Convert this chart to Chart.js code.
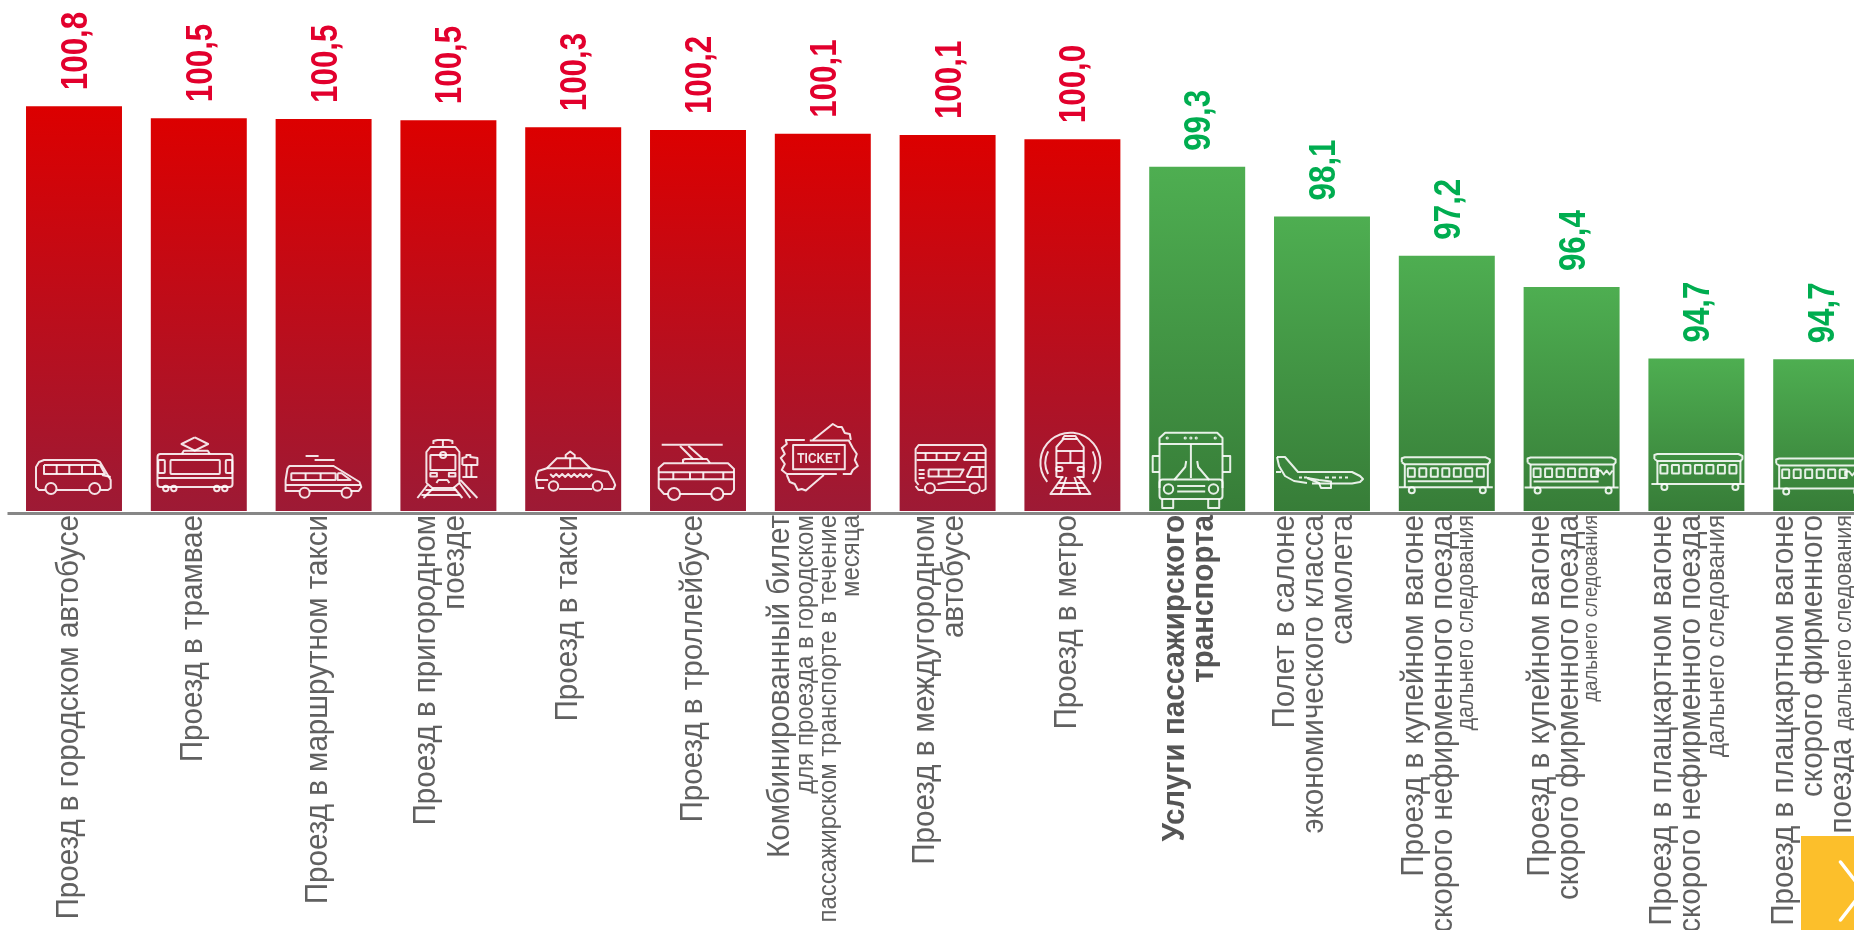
<!DOCTYPE html>
<html lang="ru">
<head>
<meta charset="utf-8">
<title>Проезд</title>
<script src="https://cdn.jsdelivr.net/npm/chart.js@4"></script>
<style>
  html, body { margin: 0; padding: 0; background: #fff; overflow: hidden; width: 1854px; height: 930px; }
  #wrap { position: relative; width: 1854px; height: 930px; overflow: hidden; }
  #graphic { position: absolute; left: 0; top: 0; }
  #nextBtn { position: absolute; left: 1801px; top: 836px; width: 53px; height: 94px; background: #fcbf2b; }
</style>
</head>
<body>
<div id="wrap">
  <canvas id="graphic" width="1900" height="930"></canvas>
  <div id="nextBtn">
    <svg width="53" height="94"><path d="M39.5 26 L62 55 L39.5 84" fill="none" stroke="#fff" stroke-width="3.5" stroke-linecap="round"/></svg>
  </div>
</div>
<script>
// Data
const categories = [
  ['Проезд в городском автобусе'],
  ['Проезд в трамвае'],
  ['Проезд в маршрутном такси'],
  ['Проезд в пригородном', 'поезде'],
  ['Проезд в такси'],
  ['Проезд в троллейбусе'],
  ['Комбинированный билет', 'для проезда в городском', 'пассажирском транспорте в течение', 'месяца'],
  ['Проезд в междугородном', 'автобусе'],
  ['Проезд в метро'],
  ['Услуги пассажирского', 'транспорта'],
  ['Полет в салоне', 'экономического класса', 'самолета'],
  ['Проезд в купейном вагоне', 'скорого нефирменного поезда', 'дальнего следования'],
  ['Проезд в купейном вагоне', 'скорого фирменного поезда', 'дальнего следования'],
  ['Проезд в плацкартном вагоне', 'скорого нефирменного поезда', 'дальнего следования'],
  ['Проезд в плацкартном вагоне', 'скорого фирменного', 'поезда|дальнего следования']
];
const values = [100.8, 100.51, 100.49, 100.46, 100.29, 100.22, 100.13, 100.1, 100.0, 99.33, 98.13, 97.18, 96.42, 94.69, 94.67];

// Styles
const BIG = 32;
const smallSizes = { 6: 26, 11: 23.3, 12: 20.2, 13: 26.2, 14: 23.3 };
const boldLabels = [9];
const labelSqueeze = 0.924;
const valueSqueeze = 0.87;
const FONT = '"Liberation Sans", Arial, sans-serif';

function hotColor(v) { return v >= 100 ? 'red' : 'green'; }
const gradientStops = { red: ['#dc0000', '#9d1a35'], green: ['#4eae51', '#377d38'] };
const valueColors = { red: '#e2002d', green: '#00ad50' };

// Pictograms, local coords: bar left edge, y=430 on top
function railCar(g, dx, dy, n, logo, under) {
  g.l(dx + 2, dy + 5, dx + 2, dy + 1, dx + 5, dy, dx + 86, dy, dx + 90, dy + 2, dx + 90, dy + 5, dx + 88, dy + 7, dx + 5, dy + 7, dx + 2, dy + 5);
  g.l(dx + 5, dy + 7, dx + 5, dy + 30);
  g.l(dx + 88, dy + 7, dx + 88, dy + 30);
  g.l(dx - 1, dy + 30, dx + 93, dy + 30);
  for (let i = 0; i < n; i++) {
    g.r(dx + 8 + i * 11.5, dy + 11, 7, 8.5, 0.5);
  }
  if (logo) g.l(dx + 71, dy + 18, dx + 71, dy + 13, dx + 75, dy + 13, dx + 78, dy + 17, dx + 81, dy + 13, dx + 84, dy + 17, dx + 87, dy + 13);
  if (under) g.l(dx + 8, dy + 24, dx + 73, dy + 24);
  g.c(dx + 12, dy + 33, 3);
  g.c(dx + 83, dy + 33, 3);
}

const icons = [
  function (g) { // автобус
    g.l(19, 60, 13, 60, 10, 57, 10, 37, 13, 32, 18, 30, 70, 30, 74, 32, 84.7, 50, 84.7, 58, 82, 60, 74.5, 60);
    g.l(31, 60, 62.5, 60);
    g.c(25, 58.5, 5.5); g.c(68.7, 58.5, 5.5);
    g.l(18, 35, 74, 35, 79, 44, 18, 44, 18, 35);
    g.l(30.7, 35, 30.7, 44); g.l(43.3, 35, 43.3, 44); g.l(56, 35, 56, 44); g.l(69, 35, 69, 44);
    g.l(76, 45, 84.7, 47);
  },
  function (g) { // трамвай
    g.l(44, 7.3, 57.3, 14, 44, 20.7, 30.7, 14, 44, 7.3);
    g.l(31, 24, 33, 20.7, 57, 20.7, 59, 24);
    g.r(6.7, 24, 75, 33, 3);
    g.r(19.7, 30, 49.3, 14, 1);
    g.r(7.5, 30, 6.5, 13, 1); g.r(75, 30, 6.5, 13, 1);
    g.l(7, 48, 81.5, 48);
    g.c(15, 58.5, 2.7); g.c(23, 58.5, 2.7); g.c(66, 58.5, 2.7); g.c(74, 58.5, 2.7);
  },
  function (g) { // маршрутное такси
    g.l(30, 26, 43, 26); g.l(39, 30, 59, 30);
    g.l(12, 38, 14, 36, 58, 36, 84, 52, 85.7, 57, 83, 61, 75, 61);
    g.l(66, 61, 34, 61); g.l(24, 61, 10, 61, 10, 50, 12, 38);
    g.r(15.7, 43.3, 44.3, 6.7, 0.5);
    g.l(30, 43.3, 30, 50); g.l(45, 43.3, 45, 50);
    g.l(62, 43.3, 66, 43.3, 75, 50, 62, 50, 62, 43.3);
    g.l(10.5, 55, 85, 55);
    g.c(29, 62.7, 5); g.c(71, 62.7, 5);
  },
  function (g) { // пригородный поезд
    g.l(33, 14, 33, 11, 37, 10, 48, 10, 52, 11, 52, 14);
    g.l(42.5, 10, 42.5, 16);
    g.l(26, 53, 26, 22, 30, 17, 55, 17, 59, 22, 59, 53, 53, 58, 32, 58, 26, 53);
    g.r(30, 25, 25, 15, 0.5);
    g.c(42.7, 25, 3);
    g.r(30, 43, 6.5, 3.5, 0); g.r(48.5, 43, 6.5, 3.5, 0);
    g.l(36, 53, 38, 50, 47, 50, 49, 53);
    g.l(27, 55, 17, 68); g.l(33, 58, 23, 68); g.l(53, 57, 62, 68); g.l(59, 53, 70, 68); g.l(60, 50, 77, 68);
    g.l(25, 60, 56, 60); g.l(21, 65, 60, 65);
    g.l(62, 35, 62, 28, 66, 27, 66, 25, 70, 25, 70, 27, 77, 28, 77, 35, 62, 35);
    g.l(66, 35, 66, 47); g.l(71, 35, 71, 47); g.l(62, 47, 77, 47);
  },
  function (g) { // такси
    g.l(21.7, 38.3, 31.7, 28.3, 55, 28.3, 65, 38.3);
    g.l(40.5, 28, 40.5, 25, 45, 21.5, 49.5, 25, 49.5, 28);
    g.l(45, 28.3, 45, 38.5);
    g.l(19, 58, 12, 58, 10.7, 48, 13, 41, 21.7, 38.3, 65, 38.3, 83, 41.7, 88, 50, 90, 55, 88.3, 59, 78, 59);
    g.l(34, 59, 67, 59);
    g.l(25, 44, 28, 47, 31, 44, 34, 47, 37, 44, 40, 47, 43, 44, 46, 47, 49, 44, 52, 47, 55, 44, 58, 47, 61, 44, 64, 47, 67, 44);
    g.c(28.3, 56, 4.7); g.c(72.3, 56, 4.7);
    g.l(11, 50, 23, 50);
  },
  function (g) { // троллейбус
    g.l(11.7, 14.7, 72.7, 14.7);
    g.l(30, 16, 43.3, 29.3); g.l(38.3, 16, 53.3, 29.3);
    g.l(33, 33, 33, 30, 35, 29, 57, 29, 60, 33);
    g.l(18, 64, 14, 64, 8.7, 58, 8.7, 38, 14, 33.3, 78, 33.3, 84, 39, 84, 60, 81, 64, 73, 64);
    g.l(30, 64, 61, 64);
    g.l(8.7, 42.3, 84, 42.3); g.l(8.7, 49.3, 84, 49.3);
    g.l(23.3, 42.3, 23.3, 49.3); g.l(40, 42.3, 40, 49.3); g.l(53.3, 42.3, 53.3, 49.3); g.l(73.3, 42.3, 73.3, 49.3);
    g.c(24, 64, 6); g.c(67.3, 64, 6);
  },
  function (g) { // билет
    g.r(18.3, 15, 51.7, 24.3, 0);
    g.l(30, 10, 11, 10, 12, 14, 7, 18, 10, 24, 6, 28, 10, 34, 7, 40, 12, 44, 62, 44);
    g.l(35, 10.5, 74, 10.5, 78, 18, 82, 24, 80, 30, 83, 36, 78, 40, 76, 44, 68, 44);
    g.l(38, 10, 58, -6, 63, -3, 67, -3, 70, 3, 75, 4, 76, 10);
    g.l(49, 45, 31, 60.5, 27, 59, 23, 60, 20, 54, 15, 52, 12, 45);
    g.text('TICKET', 44, 32.5, 14.5, 0.82);
  },
  function (g) { // двухэтажный автобус
    g.l(19, 55, 16, 51, 16, 19, 19, 15, 83, 15, 86, 19, 86, 59, 83, 61, 81, 61);
    g.l(36, 60, 70, 60); g.l(24, 60, 19, 60, 16, 56);
    g.l(17, 23, 60, 23, 56, 30, 17, 30);
    g.l(26, 23, 26, 30); g.l(37, 23, 37, 30); g.l(47, 23, 47, 30);
    g.l(64, 30, 69, 23, 86, 23); g.l(64, 30, 86, 30); g.l(77, 23, 77, 30);
    g.l(29, 39.5, 64, 39.5, 60, 46.5, 29, 46.5, 29, 39.5);
    g.l(39, 39.5, 39, 46.5); g.l(49, 39.5, 49, 46.5);
    g.l(19, 40, 25, 40); g.l(19, 44, 25, 44); g.l(19, 48, 25, 48);
    g.l(67, 47, 72, 37, 85, 37); g.l(67, 47, 85, 47); g.l(80, 37, 80, 47);
    g.l(38, 54, 48, 52, 66, 52);
    g.c(30.3, 58.3, 5); g.c(75, 58.3, 5);
  },
  function (g) { // метро
    g.arc(46, 32.7, 30, Math.PI * 0.78, Math.PI * 2.22);
    g.arc(46, 32.7, 25, Math.PI * 0.85, Math.PI * 1.15);
    g.arc(46, 32.7, 25, Math.PI * 1.85, Math.PI * 2.15);
    g.l(32, 47, 32, 17, 39, 9, 53, 9, 59.3, 17, 59.3, 47, 52, 47);
    g.l(39, 47, 32, 47); g.l(38, 9, 40, 6, 51, 6, 53, 9);
    g.l(32, 21, 59.3, 21); g.l(32, 33, 59.3, 33); g.l(46, 21, 46, 33);
    g.r(32, 37, 6, 4, 1.5); g.r(53.3, 37, 6, 4, 1.5);
    g.l(38, 47, 26, 64, 66, 64, 54, 47);
    g.l(34, 53, 58, 53); g.l(31, 58, 61, 58);
    g.l(42, 47, 36, 64); g.l(50, 47, 56, 64);
  },
  function (g) { // автобус спереди
    g.l(10.3, 58, 10.3, 8, 16, 2.7, 68, 2.7, 73.3, 8, 73.3, 58);
    g.r(10.3, 49.5, 63, 19.5, 3);
    g.l(10.3, 14, 73.3, 14);
    g.l(41.7, 14, 41.7, 48);
    g.l(25, 50, 36, 37, 37, 31); g.l(48, 31, 49, 37, 60, 50);
    g.c(19.3, 59, 4.7); g.c(64.3, 59, 4.7);
    g.l(28, 56, 56, 56); g.l(28, 61.5, 56, 61.5);
    g.l(10, 26, 3.5, 26, 3.5, 42, 10, 42); g.l(73.5, 26, 81, 26, 81, 42, 73.5, 42);
    g.c(18, 8, 0.6); g.c(36, 8, 0.6); g.c(41.7, 8, 0.6); g.c(47, 8, 0.6); g.c(66, 8, 0.6);
    g.l(13, 69, 13, 78, 24, 78, 24, 69); g.l(59, 69, 59, 78, 70, 78, 70, 69);
  },
  function (g) { // самолет
    g.l(3, 27, 11, 27, 24, 42, 78, 42, 86, 46, 89, 49, 86, 52, 78, 53.5, 38, 53.5);
    g.l(3, 27, 5, 36, 11, 46, 20, 51, 33, 53);
    g.l(2, 42, 7, 42);
    g.l(33, 48, 45, 50, 57, 51.5, 57, 58, 47, 58, 45, 53, 33, 48);
    g.l(25, 47.5, 28, 47.5); g.l(30, 47.5, 33, 47.5);
    g.l(51, 47.5, 55, 47.5); g.l(58, 47.5, 62, 47.5); g.l(65, 47.5, 68, 47.5); g.l(71, 47.5, 74, 47.5);
  },
  function (g) { railCar(g, 1, 27.3, 7, false, true); },
  function (g) { railCar(g, 2, 27.5, 6, true, true); },
  function (g) { railCar(g, 4, 24, 7, false, false); },
  function (g) { railCar(g, 1, 28.5, 6, true, false); }
];

function makeGlyphs(ctx) {
  return {
    l: function () {
      ctx.beginPath();
      ctx.moveTo(arguments[0], arguments[1]);
      for (let i = 2; i < arguments.length; i += 2) ctx.lineTo(arguments[i], arguments[i + 1]);
      ctx.stroke();
    },
    r: function (x, y, w, h, rad) {
      ctx.beginPath();
      ctx.roundRect(x, y, w, h, rad);
      ctx.stroke();
    },
    c: function (x, y, rad) {
      ctx.beginPath();
      ctx.arc(x, y, rad, 0, Math.PI * 2);
      ctx.stroke();
    },
    arc: function (x, y, rad, a, b) {
      ctx.beginPath();
      ctx.arc(x, y, rad, a, b);
      ctx.stroke();
    },
    text: function (str, x, y, size, k) {
      ctx.save();
      ctx.translate(x, y);
      ctx.scale(k, 1);
      ctx.font = 'bold ' + size + 'px ' + FONT;
      ctx.textAlign = 'center';
      ctx.fillStyle = '#f3e6e8';
      ctx.fillText(str, 0, 0);
      ctx.restore();
    }
  };
}

function sizesOf(index) {
  // size of every line of a label
  return categories[index].map(function (line, n) {
    if (line.indexOf('|') !== -1) return BIG;
    if (index === 6 && n > 0) return smallSizes[6];
    if (smallSizes[index] && index !== 6 && n === categories[index].length - 1) return smallSizes[index];
    return BIG;
  });
}

function rotatedText(ctx, text, x, y, font, color, align, squeeze) {
  ctx.save();
  ctx.translate(x, y);
  ctx.rotate(-Math.PI / 2);
  ctx.scale(squeeze, 1);
  ctx.font = font;
  ctx.fillStyle = color;
  ctx.textAlign = align;
  ctx.textBaseline = 'alphabetic';
  ctx.fillText(text, 0, 0);
  ctx.restore();
}

const barDecor = {
  id: 'barDecor',
  afterDatasetsDraw(chart) {
    const ctx = chart.ctx;
    const xScale = chart.scales.x;
    const yScale = chart.scales.y;
    const bars = chart.getDatasetMeta(0).data;
    const axisY = yScale.bottom;
    const topY = 515;

    // axis line
    ctx.save();
    ctx.strokeStyle = '#878787';
    ctx.lineWidth = 3;
    ctx.beginPath();
    ctx.moveTo(7.5, axisY);
    ctx.lineTo(chart.width, axisY);
    ctx.stroke();
    ctx.restore();

    const g = makeGlyphs(ctx);

    bars.forEach(function (bar, i) {
      // icons
      ctx.save();
      ctx.translate(bar.x - 48, 430);
      ctx.strokeStyle = 'rgba(255,255,255,0.88)';
      ctx.lineWidth = 2;
      ctx.lineJoin = 'round';
      icons[i](g);
      ctx.restore();

      // value on top of the bar
      const txt = values[i].toFixed(1).replace('.', ',');
      rotatedText(ctx, txt, bar.x + 13, bar.y - 16, 'bold 36px ' + FONT, valueColors[hotColor(values[i])], 'left', valueSqueeze);

      // category label, several lines and two sizes
      const sizes = sizesOf(i);
      const lineH = sizes.map(function (s) { return s * 0.9; });
      const total = lineH.reduce(function (a, b) { return a + b; }, 0);
      const weight = boldLabels.indexOf(i) !== -1 ? 'bold ' : '';
      const shift = sizes.length > 1 ? -10.5 : -8;
      let cur = xScale.getPixelForValue(i) + shift - total / 2;
      categories[i].forEach(function (line, n) {
        const base = cur + lineH[n] / 2 + sizes[n] * 0.36;
        const parts = line.split('|');
        if (parts.length > 1) {
          const small = smallSizes[i];
          ctx.save();
          ctx.font = small + 'px ' + FONT;
          const w = ctx.measureText(parts[1]).width * labelSqueeze;
          ctx.restore();
          rotatedText(ctx, parts[1], base, topY, small + 'px ' + FONT, '#606060', 'right', labelSqueeze);
          rotatedText(ctx, parts[0], base, topY + w + 8, sizes[n] + 'px ' + FONT, '#606060', 'right', labelSqueeze);
        } else {
          rotatedText(ctx, line, base, topY, weight + sizes[n] + 'px ' + FONT, weight ? '#555555' : '#606060', 'right', labelSqueeze);
        }
        cur += lineH[n];
      });
    });
  }
};

const ctx = document.getElementById('graphic').getContext('2d');

new Chart(ctx, {
  type: 'bar',
  data: {
    labels: categories.map(function (c) { return c.join(' ').replace('|', ' '); }),
    datasets: [{
      data: values,
      base: 91,
      backgroundColor: function (context) {
        const chart = context.chart;
        const scale = chart.scales.y;
        const value = values[context.dataIndex];
        if (value === undefined) return gradientStops.red[0];
        const kind = hotColor(value);
        const top = scale ? scale.getPixelForValue(value) : NaN;
        const bottom = scale ? scale.getPixelForValue(91) : NaN;
        if (!Number.isFinite(top) || !Number.isFinite(bottom)) return gradientStops[kind][0];
        const grad = chart.ctx.createLinearGradient(0, top, 0, bottom);
        grad.addColorStop(0, gradientStops[kind][0]);
        grad.addColorStop(1, gradientStops[kind][1]);
        return grad;
      },
      barPercentage: 0.769,
      categoryPercentage: 1
    }]
  },
  options: {
    responsive: false,
    animation: false,
    layout: { padding: { left: 11.6, right: 16.4, top: 0, bottom: 416.6 } },
    plugins: { legend: { display: false }, tooltip: { enabled: false } },
    scales: {
      x: { display: false },
      y: { display: false, min: 90.94, max: 103.37 }
    }
  },
  plugins: [barDecor]
});
</script>
</body>
</html>
